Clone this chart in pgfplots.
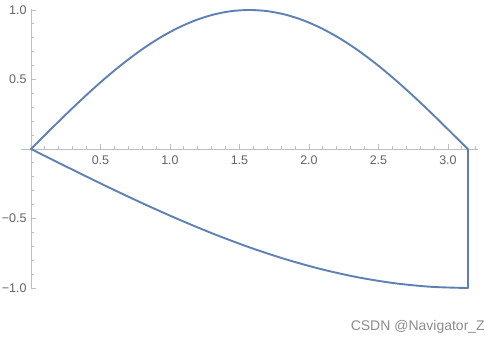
\documentclass[border=0pt]{standalone}
\usepackage{fontspec}
\setmainfont{Liberation Sans}
\usepackage{pgfplots}
\pgfplotsset{compat=1.18}
\definecolor{mmablue}{rgb}{0.368417,0.506779,0.709798}
\definecolor{axgray}{RGB}{190,190,190}
\definecolor{lblgray}{RGB}{100,100,100}
\begin{document}
\begin{tikzpicture}[x=1pt,y=1pt]
\useasboundingbox (0,0) rectangle (500,344);
\begin{axis}[
  at={(20.7pt,54.6pt)}, anchor=south west,
  scale only axis, width=457.3pt, height=280.8pt,
  xmin=-0.074, xmax=3.216, ymin=-1.01, ymax=1.01,
  axis lines=middle,
  every inner x axis line/.append style={-},
  every inner y axis line/.append style={-},
  axis line style={axgray, line width=0.8pt, -},
  tick style={axgray, line width=0.8pt},
  tick align=inside,
  major tick length=5pt, minor tick length=3pt,
  xtick={0.5,1.0,1.5,2.0,2.5,3.0},
  xticklabels={0.5,1.0,1.5,2.0,2.5,3.0},
  ytick={-1,-0.5,0.5,1},
  yticklabels={−1.0,−0.5,0.5,1.0},
  minor xtick={0.1,0.2,0.3,0.4,0.6,0.7,0.8,0.9,1.1,1.2,1.3,1.4,1.6,1.7,1.8,1.9,2.1,2.2,2.3,2.4,2.6,2.7,2.8,2.9,3.1,3.2},
  minor ytick={-0.9,-0.8,-0.7,-0.6,-0.4,-0.3,-0.2,-0.1,0.1,0.2,0.3,0.4,0.6,0.7,0.8,0.9},
  ticklabel style={font=\fontsize{12.5}{14}\selectfont, text=lblgray},
  xticklabel style={anchor=north, yshift=-3pt},
  yticklabel style={anchor=east, xshift=-1pt},
  clip=false,
]
\addplot[mmablue, line width=1.9pt, line cap=round, line join=round, smooth] coordinates {
(0,0) (0.1309,0.130526) (0.2618,0.258819) (0.3927,0.382683) (0.5236,0.5)
(0.6545,0.608761) (0.7854,0.707107) (0.9163,0.793353) (1.0472,0.866025)
(1.1781,0.923880) (1.3090,0.965926) (1.4399,0.991445) (1.5708,1)
(1.7017,0.991445) (1.8326,0.965926) (1.9635,0.923880) (2.0944,0.866025)
(2.2253,0.793353) (2.3562,0.707107) (2.4871,0.608761) (2.6180,0.5)
(2.7489,0.382683) (2.8798,0.258819) (3.0107,0.130526) (3.1416,0)
};
\addplot[mmablue, line width=1.9pt, line cap=round, line join=round] coordinates {
(3.1416,0) (3.1416,-1)
};
\addplot[mmablue, line width=1.9pt, line cap=round, line join=round, smooth] coordinates {
(3.1416,-1) (2.8798,-0.991445) (2.6180,-0.965926) (2.3562,-0.923880)
(2.0944,-0.866025) (1.8326,-0.793353) (1.5708,-0.707107) (1.3090,-0.608761)
(1.0472,-0.5) (0.7854,-0.382683) (0.5236,-0.258819) (0.2618,-0.130526) (0,0)
};
\end{axis}
\node[anchor=base east, text=black!45, font=\fontsize{14}{16}\selectfont, inner sep=0pt] at (485,13) {CSDN @Navigator\_Z};
\end{tikzpicture}
\end{document}
